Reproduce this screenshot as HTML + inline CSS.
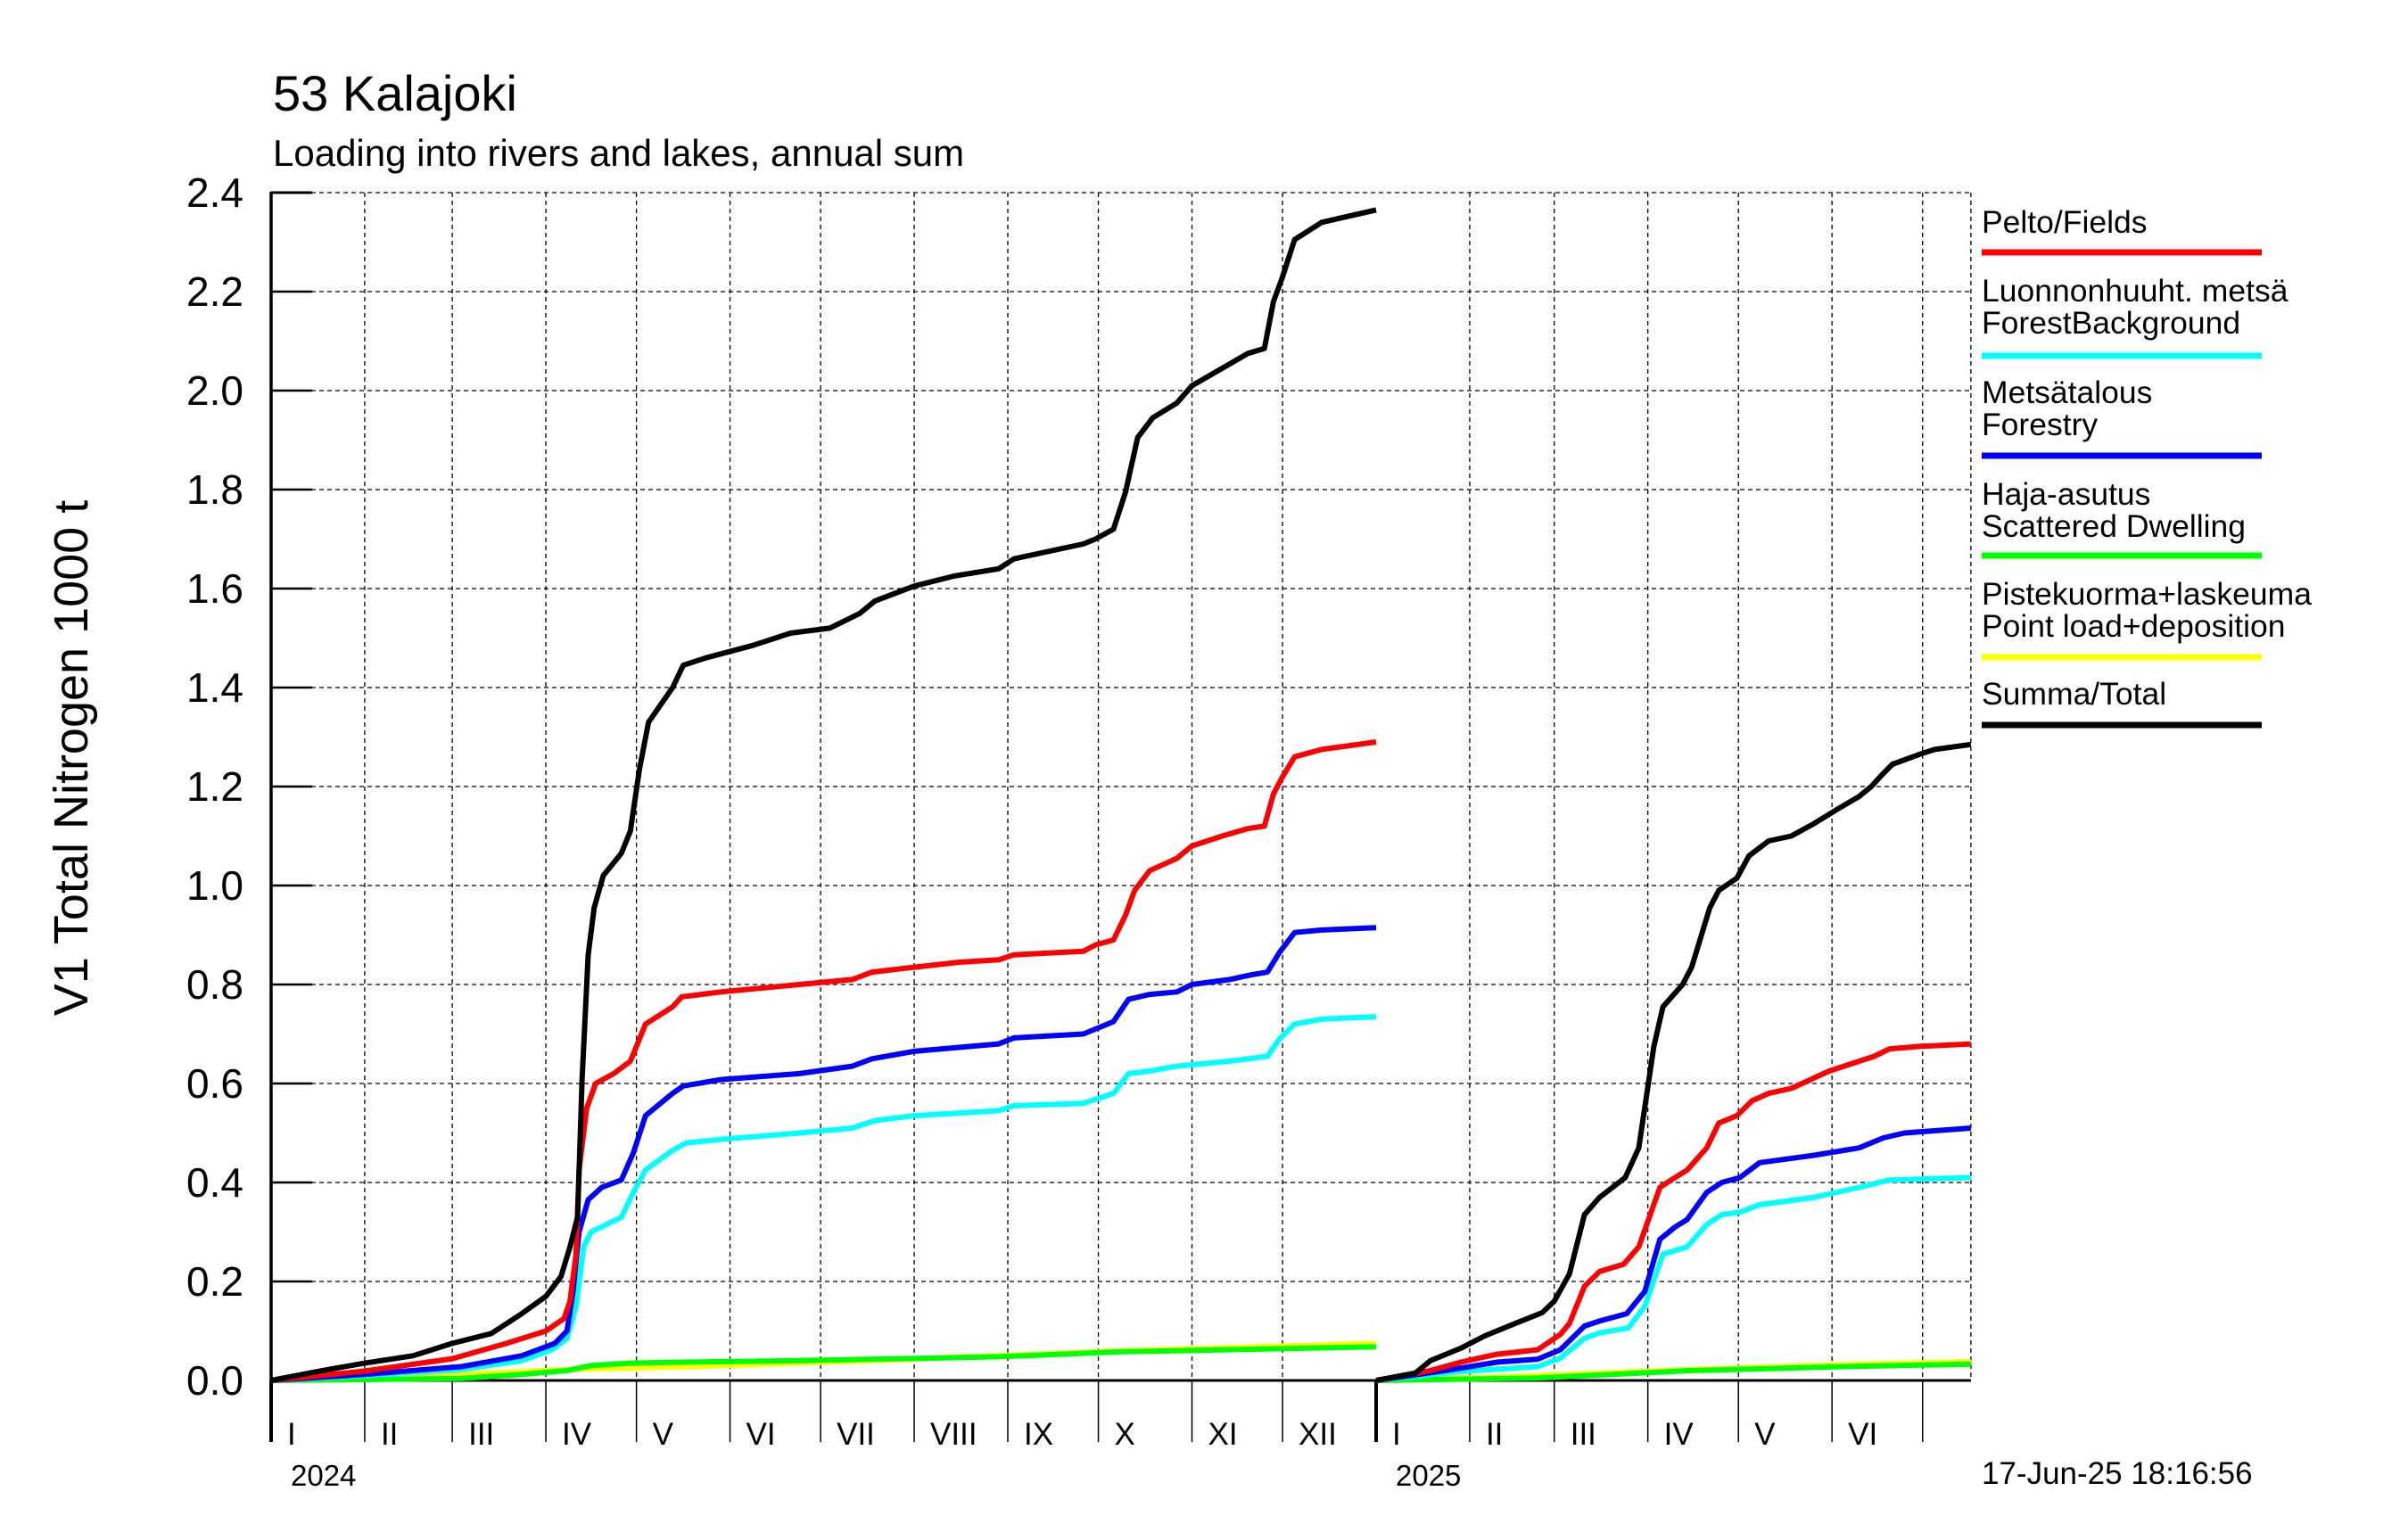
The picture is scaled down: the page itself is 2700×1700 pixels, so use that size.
<!DOCTYPE html>
<html><head><meta charset="utf-8"><style>
html,body{margin:0;padding:0;background:#fff;}
svg{display:block;font-family:"Liberation Sans",sans-serif;}
</style></head><body>
<svg id="chart" width="2700" height="1700" viewBox="0 0 2700 1700" xmlns="http://www.w3.org/2000/svg">
<text x="306" y="124" font-size="56">53 Kalajoki</text>
<text x="306" y="186" font-size="42">Loading into rivers and lakes, annual sum</text>
<text transform="translate(98,850) rotate(-90)" text-anchor="middle" font-size="54">V1 Total Nitrogen 1000 t</text>
<g id="grid"></g>
<g id="axes"></g>
<g id="series"></g>
<g id="legend"></g>
<text x="2222" y="1664" font-size="35">17-Jun-25 18:16:56</text>
</svg>
<script>
const yTicks=[0,0.2,0.4,0.6,0.8,1.0,1.2,1.4,1.6,1.8,2.0,2.2,2.4];
const yTickLabels=["0.0","0.2","0.4","0.6","0.8","1.0","1.2","1.4","1.6","1.8","2.0","2.2","2.4"];
const months24=[0,31,60,91,121,152,182,213,244,274,305,335];
const months25=[0,31,59,90,120,151,181];
const monthLabels=["I","II","III","IV","V","VI","VII","VIII","IX","X","XI","XII"];
const years=["2024","2025"];
const days2024=366, days2025End=197;

const totalD24=[0,17,31,47,60,73,83,91,96,99,101.5,103,105,107,110,116,119,122,125,133,136.5,144,159.5,172,185,195,200,213,226,241,246,269,273,279,283,287,292,300,305,315,323.5,329,332,335,339,348,366];
const totalV24=[0,0.02,0.035,0.05,0.075,0.095,0.135,0.17,0.21,0.27,0.33,0.61,0.86,0.955,1.02,1.065,1.11,1.235,1.33,1.40,1.445,1.46,1.485,1.51,1.52,1.55,1.575,1.605,1.625,1.64,1.66,1.69,1.70,1.72,1.795,1.905,1.945,1.975,2.01,2.045,2.075,2.085,2.18,2.23,2.305,2.34,2.365];
const fieldsD24=[0,31,60,78,91,97,99,101,102,104.5,107.5,113.5,119,121,124,133,136,149,175,192.5,199,213,228,241,246,269,273,279,283,286,291,300,305,315,323.5,329,332,335,339,348,366];
const fieldsV24=[0,0.019,0.044,0.075,0.1,0.125,0.16,0.255,0.425,0.55,0.6,0.62,0.645,0.675,0.72,0.755,0.775,0.785,0.80,0.81,0.825,0.835,0.845,0.85,0.86,0.867,0.88,0.89,0.94,0.99,1.03,1.055,1.08,1.10,1.115,1.12,1.185,1.22,1.26,1.275,1.29];
const forestryD24=[0,31,63,83,94,98,100,102,105,109.5,116,120,124,133,136.5,149,175,192.5,199,213,241,246,269,273,279,284,291,300,305,317.5,325,330,334,339,348,366];
const forestryV24=[0,0.012,0.028,0.05,0.075,0.1,0.18,0.30,0.365,0.39,0.405,0.46,0.535,0.58,0.595,0.608,0.62,0.635,0.65,0.665,0.68,0.692,0.70,0.71,0.725,0.77,0.78,0.785,0.80,0.81,0.82,0.825,0.865,0.905,0.91,0.915];
const backgroundD24=[0,31,63,83,93,98,101,103.5,106,111,116,120,124,133,137.5,149,175,192.5,200,213,241,246,269,274,279,284,291,300,317.5,330,334,339,348,366];
const backgroundV24=[0,0.01,0.022,0.04,0.062,0.085,0.15,0.27,0.30,0.315,0.33,0.38,0.425,0.465,0.48,0.487,0.50,0.51,0.525,0.535,0.545,0.555,0.56,0.57,0.58,0.62,0.625,0.635,0.645,0.655,0.69,0.72,0.73,0.735];
const dwellingD24=[0,63,83,98,106,119,136.5,175,241,282,366];
const dwellingV24=[0,0.004,0.012,0.02,0.03,0.035,0.037,0.04,0.048,0.058,0.068];
const pointD24=[0,63,98,139,190,241,282,366];
const pointV24=[0,0.012,0.022,0.028,0.038,0.05,0.06,0.075];

const totalD25=[0,13,18,28,36,46,55,59,64,69,74,82.5,87,92,95,101.5,104.5,110.5,113.5,119.5,123.5,130,137.5,145,153,160,164,167,171,180,185,197];
const totalV25=[0,0.015,0.04,0.065,0.09,0.115,0.137,0.16,0.215,0.335,0.37,0.41,0.47,0.675,0.755,0.80,0.835,0.955,0.99,1.015,1.06,1.09,1.10,1.125,1.155,1.18,1.20,1.22,1.245,1.265,1.275,1.285];
const fieldsD25=[0,18,28,40,53.5,61,64,69,74,82,87,94,99,103,109.5,113.5,119.5,124.5,130,137.5,150,160,165,170,180,197];
const fieldsV25=[0,0.02,0.037,0.053,0.062,0.093,0.115,0.19,0.22,0.235,0.27,0.39,0.41,0.425,0.47,0.52,0.535,0.565,0.58,0.59,0.625,0.645,0.655,0.67,0.675,0.68];
const forestryD25=[0,23,40,53.5,61,69,74,83,89,94,99,103,109.5,114.5,120.5,127,145,160,168,175,197];
const forestryV25=[0,0.02,0.037,0.043,0.062,0.11,0.12,0.135,0.18,0.285,0.31,0.325,0.38,0.40,0.41,0.44,0.455,0.47,0.49,0.50,0.51];
const backgroundD25=[0,28,53.5,61,69,74,83.5,89,95,103,109.5,114.5,120.5,127,145,160,170,197];
const backgroundV25=[0,0.018,0.028,0.045,0.085,0.096,0.106,0.15,0.255,0.27,0.315,0.335,0.34,0.355,0.37,0.39,0.405,0.41];
const dwellingD25=[0,53.5,104.5,155,197];
const dwellingV25=[0,0.005,0.02,0.028,0.033];
const pointD25=[0,53.5,104.5,155,197];
const pointV25=[0,0.01,0.022,0.032,0.038];

const legendLabels=[["Pelto/Fields"],["Luonnonhuuht. metsä","ForestBackground"],["Metsätalous","Forestry"],["Haja-asutus","Scattered Dwelling"],["Pistekuorma+laskeuma","Point load+deposition"],["Summa/Total"]];
const legendColors=["#ff0000","#00ffff","#0000ff","#00ff00","#ffff00","#000000"];

const NS="http://www.w3.org/2000/svg";
const X0=304, DIV=1543, Y0=1548, YT=216, PPD=(DIV-X0)/days2024, XR=DIV+days2025End*PPD;
function x24(d){return X0+d*PPD;}
function x25(d){return DIV+d*PPD;}
function yv(v){return Y0-v*(Y0-YT)/2.4;}
function mk(tag,attrs,parent){const e=document.createElementNS(NS,tag);for(const k in attrs)e.setAttribute(k,attrs[k]);parent.appendChild(e);return e;}
const grid=document.getElementById('grid'), axes=document.getElementById('axes'), ser=document.getElementById('series'), leg=document.getElementById('legend');

yTicks.forEach((t,i)=>{
  if(i>0){const g=mk('line',{x1:X0,x2:XR,y1:yv(t),y2:yv(t),stroke:'#000','stroke-width':1.3,'stroke-dasharray':'5,4'},grid);
  
  }
  const tk=mk('line',{x1:X0,x2:X0+46,y1:yv(t),y2:yv(t),stroke:'#000','stroke-width':2.5},axes);
  
  
  const lb=mk('text',{x:273,y:yv(t)+16,'text-anchor':'end','font-size':46},axes);
  lb.textContent=yTickLabels[i];
  
  
});
function monthsDraw(arr,xf,endDay){
  arr.forEach((m,i)=>{
    const x=xf(m);
    if(i>0){const g=mk('line',{x1:x,x2:x,y1:YT,y2:Y0,stroke:'#000','stroke-width':1.3,'stroke-dasharray':'5,4'},grid);
    
    }
    const tk=mk('line',{x1:x,x2:x,y1:Y0,y2:1617,stroke:'#000','stroke-width':(i==0?4:1.5)},axes);
    
    
    if(endDay-m>=28){
      const lb=mk('text',{x:x+18,y:1620,'font-size':35},axes);
      lb.textContent=monthLabels[i];
      
      
    }
  });
}
monthsDraw(months24,x24,days2024);
monthsDraw(months25,x25,days2025End);
const rg=mk('line',{x1:XR,x2:XR,y1:YT,y2:Y0,stroke:'#000','stroke-width':1.3,'stroke-dasharray':'5,4'},grid);


const ya=mk('line',{x1:X0,x2:X0,y1:YT-1,y2:1617,stroke:'#000','stroke-width':3.5},axes);


const xa=mk('line',{x1:X0,x2:XR,y1:Y0,y2:Y0,stroke:'#000','stroke-width':3},axes);


const tt=mk('line',{x1:X0,x2:X0+46,y1:YT,y2:YT,stroke:'#000','stroke-width':3},axes);


[[x24,years[0]],[x25,years[1]]].forEach(p=>{
  const t=mk('text',{x:p[0](0)+22,y:1666,'font-size':33},axes);
  t.textContent=p[1];
  
  
});

const seriesList=[
 ['point-load',pointD24,pointV24,pointD25,pointV25,'#ffff00'],
 ['scattered-dwelling',dwellingD24,dwellingV24,dwellingD25,dwellingV25,'#00ff00'],
 ['forest-background',backgroundD24,backgroundV24,backgroundD25,backgroundV25,'#00ffff'],
 ['forestry',forestryD24,forestryV24,forestryD25,forestryV25,'#0000ff'],
 ['fields',fieldsD24,fieldsV24,fieldsD25,fieldsV25,'#ff0000'],
 ['total',totalD24,totalV24,totalD25,totalV25,'#000000']
];
seriesList.forEach(s=>{
  [[s[1],s[2],x24,'2024'],[s[3],s[4],x25,'2025']].forEach(p=>{
    const pts=p[0].map((d,i)=>p[2](d).toFixed(1)+','+yv(p[1][i]).toFixed(1)).join(' ');
    const pl=mk('polyline',{points:pts,fill:'none',stroke:s[5],'stroke-width':6,'stroke-linejoin':'round'},ser);
    
    
  });
});

const legTextY=[[261],[338,374],[452,488],[566,602],[678,714],[790]];
const legLineY=[283,399,511,623,737,813];
legendLabels.forEach((lines,i)=>{
  lines.forEach((ln,j)=>{
    const t=mk('text',{x:2222,y:legTextY[i][j],'font-size':35.5},leg);
    t.textContent=ln;
    
    
  });
  const l=mk('line',{x1:2222,x2:2536,y1:legLineY[i],y2:legLineY[i],stroke:legendColors[i],'stroke-width':7},leg);
  
  
});
</script>
</body></html>
